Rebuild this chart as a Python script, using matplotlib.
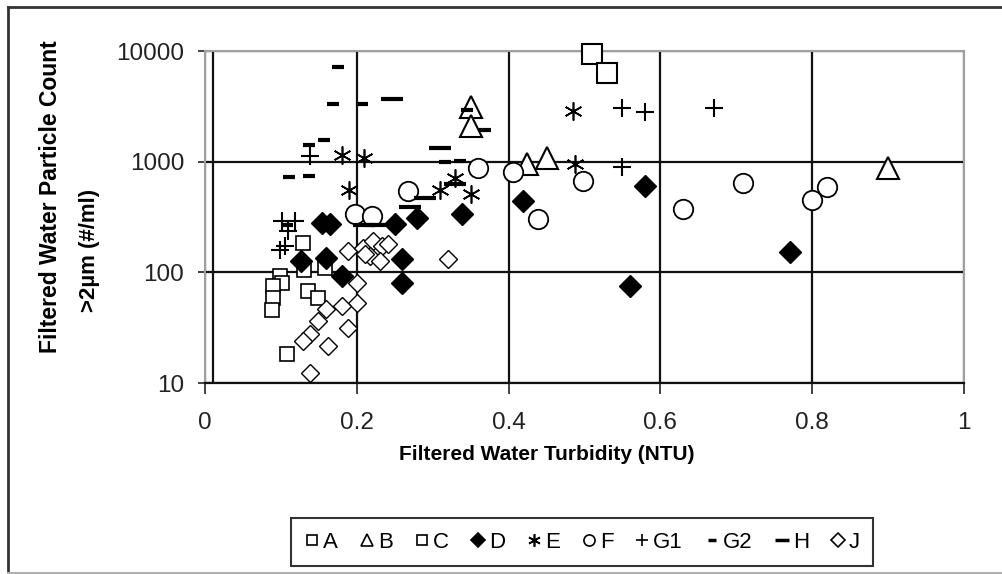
import matplotlib.pyplot as plt
from matplotlib.lines import Line2D
from matplotlib.ticker import NullLocator

plt.rcParams['font.family'] = ['Liberation Sans', 'DejaVu Sans']

# filtered water turbidity (NTU) vs particle count >2um (#/ml), one pair of lists per plant
a_x = [0.510, 0.529]
a_y = [9300, 6350]

b_x = [0.350, 0.350, 0.424, 0.451, 0.900]
b_y = [3150, 2100, 950, 1090, 880]

c_x = [0.129, 0.130, 0.158, 0.099, 0.101, 0.090, 0.090, 0.088, 0.136, 0.149, 0.108]
c_y = [185, 106, 110, 93, 80, 75, 59, 46, 68, 59, 18.2]

d_x = [0.154, 0.165, 0.250, 0.279, 0.338, 0.419, 0.580, 0.560, 0.771, 0.259, 0.259,
       0.127, 0.160, 0.180]
d_y = [281, 272, 275, 311, 338, 441, 603, 75, 153, 131, 80.5, 126, 135, 93]

e_x = [0.180, 0.209, 0.190, 0.310, 0.329, 0.351, 0.485, 0.487]
e_y = [1160, 1085, 560, 551, 716, 507, 2850, 950]

f_x = [0.198, 0.220, 0.268, 0.360, 0.406, 0.439, 0.498, 0.630, 0.709, 0.800, 0.819]
f_y = [334, 323, 542, 870, 800, 301, 668, 371, 645, 447, 590]

g1_x = [0.101, 0.119, 0.109, 0.105, 0.099, 0.138, 0.549, 0.580, 0.671, 0.549]
g1_y = [290, 290, 236, 173, 159, 1130, 3070, 2810, 3070, 893]

g2_x = [0.1755, 0.168, 0.207, 0.137, 0.157, 0.111, 0.137, 0.345, 0.369, 0.316, 0.336, 0.108]
g2_y = [7200, 3300, 3300, 1413, 1555, 731, 741, 2960, 1920, 1000, 1010, 266]

h_x = [0.247, 0.3096, 0.290, 0.270, 0.329, 0.210, 0.224]
h_y = [3700, 1336, 472, 389, 624, 265, 265]

j_x = [0.189, 0.2086, 0.222, 0.233, 0.217, 0.230, 0.200, 0.200, 0.180, 0.160, 0.149,
       0.189, 0.138, 0.1295, 0.162, 0.138, 0.3206, 0.211, 0.241]
j_y = [156, 167, 192, 173, 140, 126, 80.5, 53, 49.6, 46.3, 36.3, 31.6, 27.5, 23.9,
       21.6, 12.4, 131, 146, 180]

x_ticks = [0, 0.2, 0.4, 0.6, 0.8, 1]
x_tick_labels = ['0', '0.2', '0.4', '0.6', '0.8', '1']
y_ticks = [10, 100, 1000, 10000]
y_tick_labels = ['10', '100', '1000', '10000']

# label, x, y, marker, size, face, edge width, legend size
series = [
    ('A', a_x, a_y, 's', 15, 'white', 1.5, 7.5),
    ('B', b_x, b_y, '^', 16, 'white', 1.5, 9),
    ('C', c_x, c_y, 's', 10, 'white', 1.2, 7.5),
    ('D', d_x, d_y, 'D', 11, 'black', 1.0, 7),
    ('E', e_x, e_y, (6, 2, 0), 13, 'none', 1.2, 9),
    ('F', f_x, f_y, 'o', 14, 'white', 1.3, 8),
    ('G1', g1_x, g1_y, '+', 13, 'none', 1.5, 9),
    ('G2', g2_x, g2_y, '_', 8.6, 'none', 3.0, 5.5),
    ('H', h_x, h_y, '_', 16, 'none', 3.0, 10),
    ('J', j_x, j_y, 'D', 9, 'white', 1.0, 7),
]

W, H = 1002, 574
fig = plt.figure(figsize=(W / 100, H / 100), dpi=100)
ax = fig.add_axes([205 / W, 1 - 383 / H, (964 - 205) / W, (383 - 51) / H])

for i, (lab, xs, ys, m, ms, fc, mew, lms) in enumerate(series):
    ax.plot(xs, ys, linestyle='none', marker=m, ms=ms, mfc=fc, mec='black',
            mew=mew, zorder=3 + i, clip_on=False)

ax.set_yscale('log')
ax.set_xlim(0, 1)
ax.set_ylim(10, 10000)
ax.set_xticks(x_ticks)
ax.set_xticklabels(x_tick_labels)
ax.set_yticks(y_ticks)
ax.set_yticklabels(y_tick_labels)
ax.yaxis.set_minor_locator(NullLocator())

ax.grid(True, color='#111111', lw=1.6)
ax.set_axisbelow(True)
ax.axvline(0.0105, color='#111111', lw=1.6, zorder=1)

for side in ['left', 'top', 'right']:
    ax.spines[side].set_color('#a0a0a0')
    ax.spines[side].set_linewidth(1.5)
ax.spines['bottom'].set_color('#111111')
ax.spines['bottom'].set_linewidth(1.6)

ax.tick_params(axis='y', direction='out', length=5, width=1.2, pad=10,
               labelsize=17.5, colors='#222222')
ax.tick_params(axis='x', direction='out', length=8, width=1.2, pad=13,
               labelsize=17.5, colors='#222222')

fig.text(51 / W, 1 - 197 / H, 'Filtered Water Particle Count', rotation=90,
         ha='center', va='center', fontsize=16.5, fontweight='bold')
fig.text(90 / W, 1 - 250 / H, '>2\u00b5m (#/ml)', rotation=90,
         ha='center', va='center', fontsize=16, fontweight='bold')
fig.text(547 / W, 1 - 455 / H, 'Filtered Water Turbidity (NTU)',
         ha='center', va='center', fontsize=15, fontweight='bold')

handles = []
for lab, xs, ys, m, ms, fc, mew, lms in series:
    handles.append(Line2D([], [], linestyle='none', marker=m, ms=lms,
                          mfc=fc, mec='black', mew=1.2 if m != '_' else 2.5))
leg = fig.legend(handles, [s[0] for s in series], loc='center',
                 bbox_to_anchor=(582 / W, 1 - 542 / H), ncol=10, fontsize=16,
                 frameon=True, fancybox=False, edgecolor='black',
                 handlelength=0.7, handletextpad=0.15, columnspacing=0.95,
                 borderpad=0.6)
leg.get_frame().set_linewidth(1.5)

# chart border
fig.add_artist(Line2D([8 / W, 8 / W], [0.002, 1 - 7 / H], color='#333333', lw=2,
                      transform=fig.transFigure))
fig.add_artist(Line2D([8 / W, 1], [1 - 7 / H, 1 - 7 / H], color='#333333', lw=2,
                      transform=fig.transFigure))
fig.add_artist(Line2D([8 / W, 1], [1.5 / H, 1.5 / H], color='#b0b0b0', lw=1.5,
                      transform=fig.transFigure))

fig.savefig('out.png', dpi=100)
